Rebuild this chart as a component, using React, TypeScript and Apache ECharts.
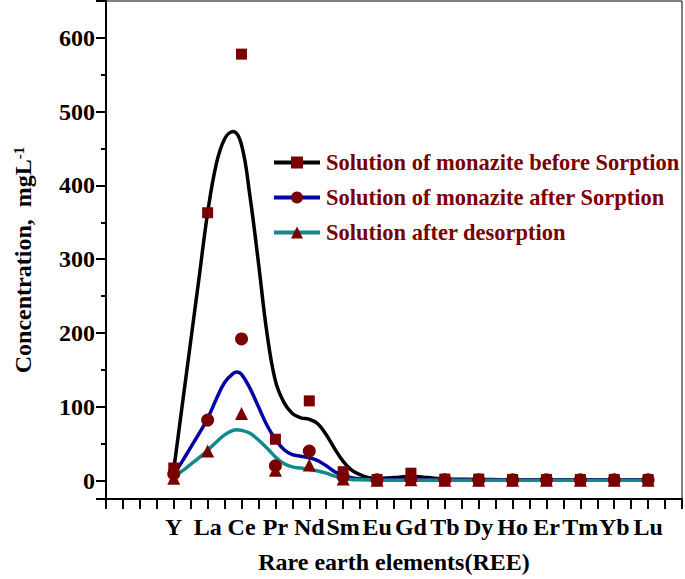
import React, { useEffect, useRef } from 'react';
import * as echarts from 'echarts';

const categories = ['Y', 'La', 'Ce', 'Pr', 'Nd', 'Sm', 'Eu', 'Gd', 'Tb', 'Dy', 'Ho', 'Er', 'Tm', 'Yb', 'Lu'];

const seriesNames = [
  'Solution of monazite before Sorption',
  'Solution of monazite after Sorption',
  'Solution after desorption',
];

// measured points (one per element)
const beforeValues = [17, 363, 578, 56, 108, 12, 1.5, 10, 2, 2, 1.5, 1.5, 1.5, 1.5, 1.5];
const afterValues = [9, 82, 192, 20, 40, 5, 1, 2, 1, 1, 1, 1, 1, 1, 1];
const desorptionValues = [3, 40, 91, 14, 21, 2, 0.5, 1, 0.5, 0.5, 0.5, 0.5, 0.5, 0.5, 0.5];

// fitted curves (position along element axis, value)
const beforeCurveX = [0, 0.25, 0.5, 0.75, 1, 1.25, 1.5, 1.75, 2, 2.25, 2.5, 2.75, 3, 3.25, 3.5, 3.75, 4, 4.25, 4.5, 4.75, 5, 5.25, 5.5, 5.75, 6, 6.5, 7, 7.5, 8, 9, 10, 11, 12, 13, 14];
const beforeCurveY = [15, 102, 189, 276, 363, 428, 463, 473, 455, 385, 295, 200, 135, 106, 91, 85, 83, 77, 62, 43, 26, 14, 8, 4, 3, 4, 6, 4, 2, 1.5, 1, 1, 1, 1, 1];

const afterCurveX = [0, 0.25, 0.5, 0.75, 1, 1.25, 1.5, 1.75, 1.86, 2, 2.25, 2.5, 2.75, 3, 3.25, 3.5, 3.75, 4, 4.25, 4.5, 4.75, 5, 5.25, 5.5, 6, 7, 8, 9, 10, 11, 12, 13, 14];
const afterCurveY = [8, 26, 45, 64, 84, 110, 133, 145, 147, 144, 125, 100, 75, 56, 42, 35, 33, 31, 27, 20, 12, 7, 4, 2.5, 1.5, 1, 0.5, 0.5, 0.5, 0.5, 0.5, 0.5, 0.5];

const desorptionCurveX = [0, 0.25, 0.5, 0.75, 1, 1.25, 1.5, 1.75, 1.86, 2, 2.25, 2.5, 2.75, 3, 3.25, 3.5, 3.75, 4, 4.25, 4.5, 4.75, 5, 5.25, 5.5, 6, 7, 8, 9, 10, 11, 12, 13, 14];
const desorptionCurveY = [5, 13, 22, 31, 41, 52, 62, 68, 69, 68, 64, 55, 44, 32, 23, 18.5, 17, 15, 13, 10, 6, 3.5, 1.5, 1, 0.5, 0.3, 0.3, 0.3, 0.3, 0.3, 0.3, 0.3, 0.3];

const lineColors = ['#000000', '#0000a8', '#138a8a'];
const markerColor = '#7a0000';
const symbols = ['rect', 'circle', 'triangle'];
const symbolSizes = [11, 13, 13];

const FONT = '"Liberation Serif", "Times New Roman", serif';

export default function App() {
  const ref = useRef<HTMLDivElement>(null);

  useEffect(() => {
    if (!ref.current) return;
    const chart = echarts.init(ref.current, undefined, { renderer: 'svg' });

    const pointSets = [beforeValues, afterValues, desorptionValues];
    const curves = [
      [beforeCurveX, beforeCurveY],
      [afterCurveX, afterCurveY],
      [desorptionCurveX, desorptionCurveY],
    ];

    const lineSeries = curves.map(([xs, ys], i) => ({
      name: seriesNames[i],
      type: 'line',
      smooth: 0.4,
      showSymbol: false,
      symbol: symbols[i],
      itemStyle: { color: markerColor, opacity: 1 },
      lineStyle: { color: lineColors[i], width: 3.5 },
      data: xs.map((x, k) => [x, ys[k]]),
      z: 2,
      silent: true,
    }));

    const scatterSeries = pointSets.map((vals, i) => ({
      name: seriesNames[i],
      type: 'scatter',
      symbol: symbols[i],
      symbolSize: symbolSizes[i],
      itemStyle: { color: markerColor, opacity: 1 },
      data: vals.map((v, k) => [k, v]),
      z: 3,
    }));

    chart.setOption({
      animation: false,
      backgroundColor: '#ffffff',
      grid: {
        left: 106,
        right: 1,
        top: 1,
        bottom: 79,
        show: true,
        borderColor: '#000',
        borderWidth: 1,
        containLabel: false,
      },
      legend: {
        data: seriesNames,
        orient: 'vertical',
        left: 272,
        top: 151,
        padding: 0,
        itemWidth: 46,
        itemHeight: 15,
        itemGap: 12,
        selectedMode: false,
        lineStyle: { width: 4 },
        itemStyle: { opacity: 1 },
        textStyle: {
          fontFamily: FONT,
          fontSize: 22.5,
          fontWeight: 'bold',
          color: markerColor,
          padding: [0, 0, 0, 1],
        },
      },
      xAxis: {
        type: 'value',
        min: -2,
        max: 15,
        interval: 0.5,
        name: 'Rare earth elements(REE)',
        nameLocation: 'middle',
        nameGap: 51,
        nameTextStyle: { fontFamily: FONT, fontSize: 24, fontWeight: 'bold', color: '#000' },
        axisLine: { show: true, onZero: false, lineStyle: { color: '#000', width: 2 } },
        axisTick: { show: true, length: 10, lineStyle: { color: '#000', width: 2 } },
        splitLine: { show: false },
        axisLabel: {
          margin: 16,
          fontFamily: FONT,
          fontSize: 24,
          fontWeight: 'bold',
          color: '#000',
          showMinLabel: true,
          showMaxLabel: true,
          formatter: (v: number) => {
            const i = Math.round(v);
            if (Math.abs(v - i) < 1e-6 && i >= 0 && i < categories.length) return categories[i];
            return '';
          },
        },
      },
      yAxis: {
        type: 'value',
        min: -25,
        max: 650,
        splitNumber: 6,
        name: 'Concentration,  mgL{sup|-1}',
        nameLocation: 'middle',
        nameGap: 71,
        nameTextStyle: {
          fontFamily: FONT,
          fontSize: 24,
          fontWeight: 'bold',
          color: '#000',
          padding: [0, 20, 0, 0],
          rich: {
            sup: {
              fontFamily: FONT,
              fontSize: 15,
              fontWeight: 'bold',
              color: '#000',
              verticalAlign: 'top',
              lineHeight: 24,
            },
          },
        },
        axisLine: { show: true, onZero: false, lineStyle: { color: '#000', width: 2 } },
        axisTick: { show: true, length: 10, lineStyle: { color: '#000', width: 2 } },
        minorTick: { show: true, splitNumber: 2, length: 5, lineStyle: { color: '#000', width: 2 } },
        splitLine: { show: false },
        minorSplitLine: { show: false },
        axisLabel: {
          margin: 11,
          fontFamily: FONT,
          fontSize: 24,
          fontWeight: 'bold',
          color: '#000',
          formatter: (v: number) => (v >= 0 && Math.abs(v % 100) < 1e-6 ? String(v) : ''),
        },
      },
      series: [...lineSeries, ...scatterSeries],
    });

    return () => chart.dispose();
  }, []);

  return (
    <div
      ref={ref}
      style={{ position: 'fixed', left: 0, top: 0, width: 685, height: 579, background: '#fff' }}
    />
  );
}
